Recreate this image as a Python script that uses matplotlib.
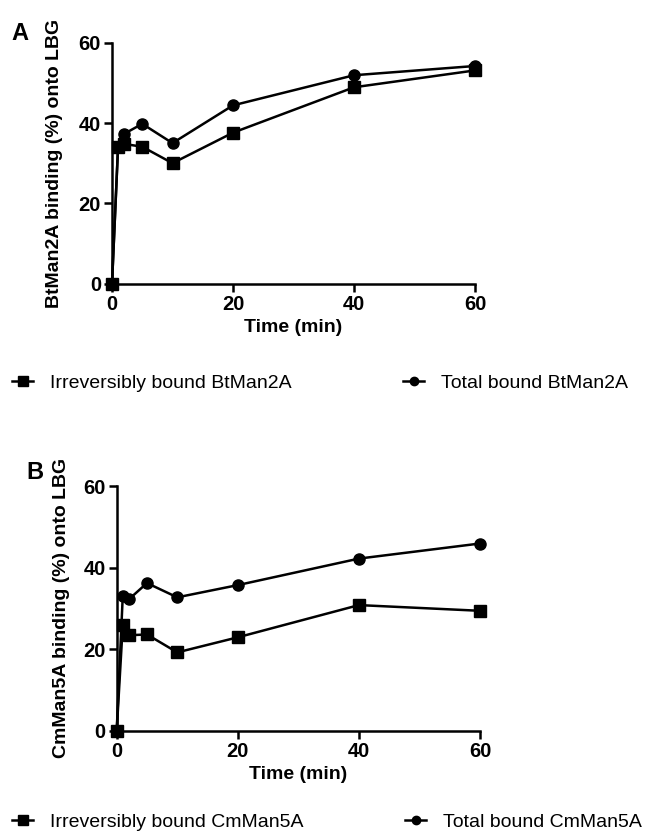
import matplotlib
matplotlib.use("Agg")
import matplotlib.pyplot as plt
from matplotlib.lines import Line2D
from matplotlib.transforms import blended_transform_factory

plt.rcParams['font.family'] = ['Liberation Sans', 'DejaVu Sans']

time_min = [0, 1, 2, 5, 10, 20, 40, 60]

bt_irreversible = [0, 34.1, 34.8, 34.1, 30.0, 37.6, 48.9, 53.1]
bt_total = [0, 34.0, 37.3, 39.8, 35.0, 44.4, 51.9, 54.2]

cm_irreversible = [0, 25.8, 23.4, 23.6, 19.2, 22.9, 30.8, 29.4]
cm_total = [0, 33.0, 32.2, 36.2, 32.7, 35.7, 42.2, 45.9]

ticks = [0, 20, 40, 60]

W, H = 647, 831
fig = plt.figure(figsize=(W / 100, H / 100), dpi=100)


def px_axes(left, right, top, bottom):
    return fig.add_axes([left / W, 1 - bottom / H, (right - left) / W, (bottom - top) / H])


def style(ax, ylabel, label_x):
    ax.set_xlim(0, 60)
    ax.set_ylim(0, 60)
    ax.set_xticks(ticks)
    ax.set_yticks(ticks)
    for s in ['top', 'right']:
        ax.spines[s].set_visible(False)
    for s in ['left', 'bottom']:
        ax.spines[s].set_linewidth(1.8)
    ax.tick_params(direction='out', length=6, width=1.8, labelsize=14.5, pad=2)
    for lab in ax.get_xticklabels() + ax.get_yticklabels():
        lab.set_fontweight('bold')
    ax.set_xlabel('Time (min)', fontsize=14, fontweight='bold', labelpad=4)
    ax.set_ylabel(ylabel, fontsize=14, fontweight='bold')
    ax.yaxis.set_label_coords(label_x, 0.5,
                              transform=blended_transform_factory(fig.transFigure, ax.transAxes))


def draw(ax, irr, tot):
    ax.plot(time_min, tot, color='black', lw=1.8, marker='o', ms=8, clip_on=False, zorder=3)
    ax.plot(time_min, irr, color='black', lw=1.8, marker='s', ms=8.5, clip_on=False, zorder=4)


axA = px_axes(112, 475, 42.7, 283.7)
draw(axA, bt_irreversible, bt_total)
style(axA, 'BtMan2A binding (%) onto LBG', 63 / W)

axB = px_axes(116.7, 480, 486, 730.7)
draw(axB, cm_irreversible, cm_total)
style(axB, 'CmMan5A binding (%) onto LBG', 70 / W)

fig.text(20 / W, 1 - 33 / H, 'A', fontsize=17, fontweight='bold', ha='center', va='center')
fig.text(35 / W, 1 - 472 / H, 'B', fontsize=17, fontweight='bold', ha='center', va='center')


def legend_entry(marker, label, x_px, y_px, ms):
    h = Line2D([], [], color='black', lw=1.8, marker=marker, ms=ms)
    lg = fig.legend([h], [label], loc='center left', bbox_to_anchor=(x_px / W, 1 - y_px / H),
                    frameon=False, fontsize=14, handlelength=1.1, handletextpad=0.85,
                    borderpad=0, borderaxespad=0)
    return lg


legend_entry('s', 'Irreversibly bound BtMan2A', 12, 383, 7)
legend_entry('o', 'Total bound BtMan2A', 403, 383, 6)
legend_entry('s', 'Irreversibly bound CmMan5A', 12, 822, 7)
legend_entry('o', 'Total bound CmMan5A', 405, 822, 6)

fig.savefig('out.png', dpi=100)
